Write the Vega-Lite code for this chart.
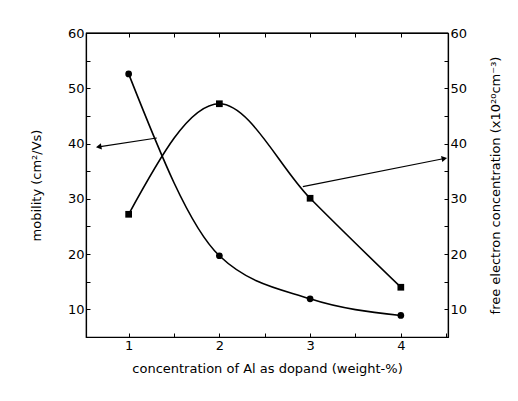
{
  "$schema": "https://vega.github.io/schema/vega-lite/v6.json",
  "width": 362,
  "height": 304,
  "autosize": "none",
  "padding": {"left": 86, "top": 33, "right": 70, "bottom": 64},
  "background": "white",
  "config": {
    "font": "DejaVu Sans",
    "view": {"stroke": "black", "strokeWidth": 1.2},
    "axis": {
      "domainColor": "black",
      "domainWidth": 1.2,
      "tickColor": "black",
      "tickWidth": 1,
      "tickSize": -4,
      "labelColor": "black",
      "labelFont": "DejaVu Sans",
      "labelFontSize": 13,
      "labelPadding": 6,
      "titleColor": "black",
      "titleFont": "DejaVu Sans",
      "titleFontSize": 13,
      "titleFontWeight": "normal",
      "grid": false
    }
  },
  "datasets": {
    "mobility": [
      {"dopant": 1, "mobility": 52.6},
      {"dopant": 2, "mobility": 19.7},
      {"dopant": 3, "mobility": 11.9},
      {"dopant": 4, "mobility": 8.9}
    ],
    "electrons": [
      {"dopant": 1, "concentration": 27.2},
      {"dopant": 2, "concentration": 47.2},
      {"dopant": 3, "concentration": 30.1},
      {"dopant": 4, "concentration": 14.0}
    ],
    "pointers": [
      {"side": "left", "fromX": 1.31, "fromY": 41.0, "toX": 0.67, "toY": 39.4},
      {"side": "right", "fromX": 2.92, "fromY": 32.2, "toX": 4.48, "toY": 37.3}
    ],
    "topEdge": [
      {"start": 0.53, "end": 4.52, "level": 60}
    ]
  },
  "layer": [
    {
      "data": {"name": "mobility"},
      "mark": {"type": "line", "interpolate": "monotone", "color": "black", "strokeWidth": 1.6},
      "encoding": {
        "x": {
          "field": "dopant",
          "type": "quantitative",
          "scale": {"domain": [0.53, 4.52], "nice": false, "zero": false},
          "axis": {
            "orient": "bottom",
            "title": "concentration of Al as dopand  (weight-%)",
            "values": [1, 1.5, 2, 2.5, 3, 3.5, 4, 4.5],
            "format": ".0f",
            "labelExpr": "datum.value % 1 == 0 ? datum.label : ''",
            "labelFlush": false,
            "titlePadding": 10
          }
        },
        "y": {
          "field": "mobility",
          "type": "quantitative",
          "scale": {"domain": [5, 60], "nice": false, "zero": false},
          "axis": {
            "orient": "left",
            "title": "mobility  (cm²/Vs)",
            "values": [10, 15, 20, 25, 30, 35, 40, 45, 50, 55, 60],
            "labelExpr": "datum.value % 10 == 0 ? datum.label : ''",
            "titlePadding": 24
          }
        }
      }
    },
    {
      "data": {"name": "mobility"},
      "mark": {"type": "point", "shape": "circle", "filled": true, "color": "black", "opacity": 1, "size": 45},
      "encoding": {
        "x": {"field": "dopant", "type": "quantitative", "scale": {"domain": [0.53, 4.52], "nice": false, "zero": false}, "axis": null},
        "y": {"field": "mobility", "type": "quantitative", "scale": {"domain": [5, 60], "nice": false, "zero": false}, "axis": null}
      }
    },
    {
      "data": {"name": "electrons"},
      "mark": {"type": "line", "interpolate": "monotone", "color": "black", "strokeWidth": 1.6},
      "encoding": {
        "x": {
          "field": "dopant",
          "type": "quantitative",
          "scale": {"domain": [0.53, 4.52], "nice": false, "zero": false},
          "axis": {
            "orient": "top",
            "title": null,
            "values": [1, 1.5, 2, 2.5, 3, 3.5, 4],
            "labels": false,
            "domain": true,
            "domainColor": "black",
            "ticks": true,
            "tickColor": "black",
            "tickSize": -4
          }
        },
        "y": {
          "field": "concentration",
          "type": "quantitative",
          "scale": {"domain": [5, 60], "nice": false, "zero": false},
          "axis": {
            "orient": "right",
            "title": "free electron concentration (x10²⁰cm⁻³)",
            "titleAngle": 270,
            "titleBaseline": "top",
            "values": [10, 15, 20, 25, 30, 35, 40, 45, 50, 55, 60],
            "labelExpr": "datum.value % 10 == 0 ? datum.label : ''",
            "titlePadding": 23
          }
        }
      }
    },
    {
      "data": {"name": "electrons"},
      "mark": {"type": "square", "filled": true, "color": "black", "opacity": 1, "size": 45},
      "encoding": {
        "x": {"field": "dopant", "type": "quantitative", "scale": {"domain": [0.53, 4.52], "nice": false, "zero": false}, "axis": null},
        "y": {"field": "concentration", "type": "quantitative", "scale": {"domain": [5, 60], "nice": false, "zero": false}, "axis": null}
      }
    },
    {
      "data": {"name": "topEdge"},
      "mark": {"type": "rule", "color": "black", "strokeWidth": 1.2, "clip": false},
      "encoding": {
        "x": {"field": "start", "type": "quantitative", "scale": {"domain": [0.53, 4.52], "nice": false, "zero": false}, "axis": null},
        "x2": {"field": "end"},
        "y": {"field": "level", "type": "quantitative", "scale": {"domain": [5, 60], "nice": false, "zero": false}, "axis": null}
      }
    },
    {
      "data": {"name": "pointers"},
      "mark": {"type": "rule", "color": "black", "strokeWidth": 1.2},
      "encoding": {
        "x": {"field": "fromX", "type": "quantitative", "scale": {"domain": [0.53, 4.52], "nice": false, "zero": false}, "axis": null},
        "y": {"field": "fromY", "type": "quantitative", "scale": {"domain": [5, 60], "nice": false, "zero": false}, "axis": null},
        "x2": {"field": "toX"},
        "y2": {"field": "toY"}
      }
    },
    {
      "data": {"name": "pointers"},
      "transform": [{"filter": "datum.side == 'left'"}],
      "mark": {"type": "point", "shape": "triangle-left", "filled": true, "color": "black", "opacity": 1, "size": 40, "angle": 351},
      "encoding": {
        "x": {"field": "toX", "type": "quantitative", "scale": {"domain": [0.53, 4.52], "nice": false, "zero": false}, "axis": null},
        "y": {"field": "toY", "type": "quantitative", "scale": {"domain": [5, 60], "nice": false, "zero": false}, "axis": null}
      }
    },
    {
      "data": {"name": "pointers"},
      "transform": [{"filter": "datum.side == 'right'"}],
      "mark": {"type": "point", "shape": "triangle-right", "filled": true, "color": "black", "opacity": 1, "size": 40, "angle": 349},
      "encoding": {
        "x": {"field": "toX", "type": "quantitative", "scale": {"domain": [0.53, 4.52], "nice": false, "zero": false}, "axis": null},
        "y": {"field": "toY", "type": "quantitative", "scale": {"domain": [5, 60], "nice": false, "zero": false}, "axis": null}
      }
    }
  ],
  "resolve": {"scale": {"x": "independent", "y": "independent"}, "axis": {"x": "independent", "y": "independent"}}
}
